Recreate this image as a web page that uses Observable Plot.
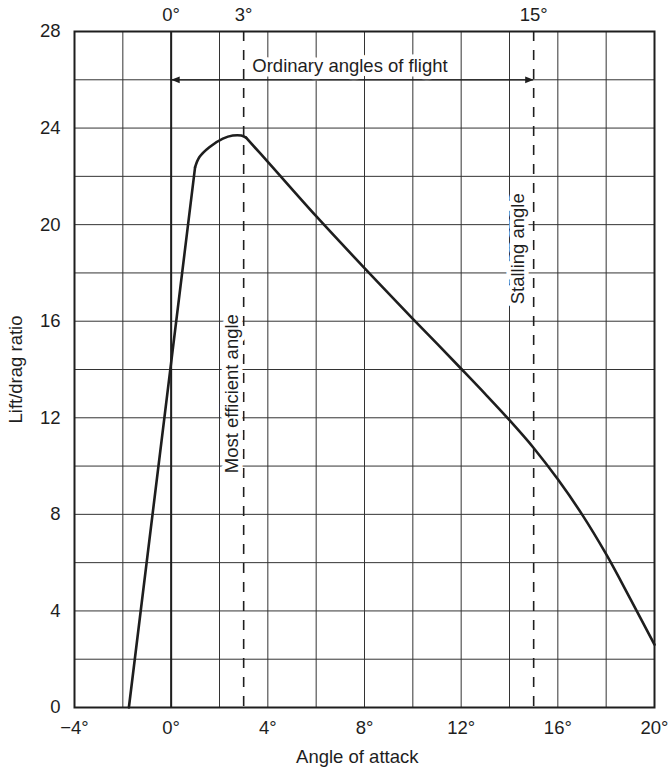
<!DOCTYPE html>
<html>
<head>
<meta charset="utf-8">
<script src="https://cdn.jsdelivr.net/npm/d3@7"></script>
<script src="https://cdn.jsdelivr.net/npm/@observablehq/plot@0.6"></script>
<style>
  html, body { margin: 0; padding: 0; background: #fff; }
</style>
</head>
<body>
<div id="chart"></div>
<script>
// Curve: three segments (straight rise, rounded top, descent)
const curveSegment = ["a","a",
  "b","b","b","b","b","b","b",
  "c","c","c","c","c","c","c","c","c","c","c","c","c","c","c"];
const curveAngle   = [-1.75, 0.99,
  0.99, 1.17, 1.58, 2.14, 2.55, 2.9, 3.1,
  3.1, 4, 6, 8, 10, 11, 12, 13, 14, 15, 16, 17, 18, 19, 20];
const curveRatio   = [0, 22.38,
  22.38, 22.8, 23.21, 23.56, 23.69, 23.69, 23.6,
  23.6, 22.6, 20.35, 18.2, 16.1, 15.07, 14.03, 12.98, 11.9, 10.75, 9.45, 8.0, 6.35, 4.5, 2.6];

const xTickValues = [-4, 0, 4, 8, 12, 16, 20];
const xTickLabels = ["\u22124\u00b0", "0\u00b0", "4\u00b0", "8\u00b0", "12\u00b0", "16\u00b0", "20\u00b0"];
const topTickValues = [0, 3, 15];
const topTickLabels = ["0\u00b0", "3\u00b0", "15\u00b0"];
const yTickValues = [0, 4, 8, 12, 16, 20, 24, 28];
const gridXValues = [-4, -2, 0, 2, 4, 6, 8, 10, 12, 14, 16, 18, 20];
const gridYValues = [0, 2, 4, 6, 8, 10, 12, 14, 16, 18, 20, 22, 24, 26, 28];

const markerAngles = [3, 15];          // dashed reference lines
const flightRange = [0, 15];           // "Ordinary angles of flight" span
const flightRangeLevel = 26;

const noteText   = ["Ordinary angles of flight", "Most efficient angle", "Stalling angle"];
const noteAngle  = [7.4, 2.5, 14.35];
const noteRatio  = [26.55, 13.0, 19.0];
const noteRotate = [0, -90, -90];

const curve = curveAngle.map((a, i) => ({seg: curveSegment[i], angle: a, ratio: curveRatio[i]}));
const notes = noteText.map((t, i) => ({text: t, angle: noteAngle[i], ratio: noteRatio[i], rotate: noteRotate[i]}));

const arrowLeft = {draw(ctx) { ctx.moveTo(0, 0); ctx.lineTo(8.5, -3.4); ctx.lineTo(8.5, 3.4); ctx.closePath(); }};
const arrowRight = {draw(ctx) { ctx.moveTo(0, 0); ctx.lineTo(-8.5, -3.4); ctx.lineTo(-8.5, 3.4); ctx.closePath(); }};

const ink = "#1e1e1e";
const fs = 18.5;

const chart = Plot.plot({
  width: 669,
  height: 767,
  marginLeft: 74,
  marginRight: 15,
  marginTop: 31,
  marginBottom: 60,
  x: {domain: [-4, 20]},
  y: {domain: [0, 28]},
  style: {fontFamily: "'Liberation Sans', Arial, Helvetica, sans-serif", fontSize: fs + "px", color: ink, background: "#fff"},
  marks: [
    Plot.gridX(gridXValues, {stroke: "#333", strokeOpacity: 1, strokeWidth: 1}),
    Plot.gridY(gridYValues, {stroke: "#333", strokeOpacity: 1, strokeWidth: 1}),
    Plot.ruleX([0], {stroke: ink, strokeWidth: 2}),
    Plot.ruleX(markerAngles, {stroke: ink, strokeWidth: 1.6, strokeDasharray: "10,9"}),
    Plot.text(notes, {x: "angle", y: "ratio", text: "text", rotate: "rotate", fill: ink, stroke: "#fff", strokeWidth: 9, paintOrder: "stroke", fontSize: fs, lineAnchor: "middle"}),
    Plot.ruleY([flightRangeLevel], {x1: flightRange[0], x2: flightRange[1], stroke: ink, strokeWidth: 1.2}),
    Plot.dot([flightRange[0]], {x: d => d, y: flightRangeLevel, symbol: arrowLeft, fill: ink, stroke: "none", r: 4}),
    Plot.dot([flightRange[1]], {x: d => d, y: flightRangeLevel, symbol: arrowRight, fill: ink, stroke: "none", r: 4}),
    Plot.line(curve, {x: "angle", y: "ratio", z: "seg", curve: "catmull-rom", stroke: ink, strokeWidth: 2.6, strokeLinejoin: "round"}),
    Plot.frame({stroke: ink, strokeWidth: 2}),
    Plot.axisX(xTickValues, {anchor: "bottom", tickSize: 0, tickPadding: 13, fontSize: fs, label: null,
      tickFormat: d => xTickLabels[xTickValues.indexOf(d)]}),
    Plot.axisX(topTickValues, {anchor: "top", tickSize: 0, tickPadding: 11, fontSize: fs, label: null,
      tickFormat: d => topTickLabels[topTickValues.indexOf(d)]}),
    Plot.axisY(yTickValues, {anchor: "left", tickSize: 0, tickPadding: 14, fontSize: fs, label: null}),
    Plot.text(["Angle of attack"], {x: 7.7, frameAnchor: "bottom", dy: 50, fontSize: fs, fill: ink, textAnchor: "middle", lineAnchor: "middle"}),
    Plot.text(["Lift/drag ratio"], {y: 14, frameAnchor: "left", dx: -58, rotate: -90, fontSize: fs, fill: ink, textAnchor: "middle", lineAnchor: "middle"})
  ]
});
document.getElementById("chart").appendChild(chart);
</script>
</body>
</html>
